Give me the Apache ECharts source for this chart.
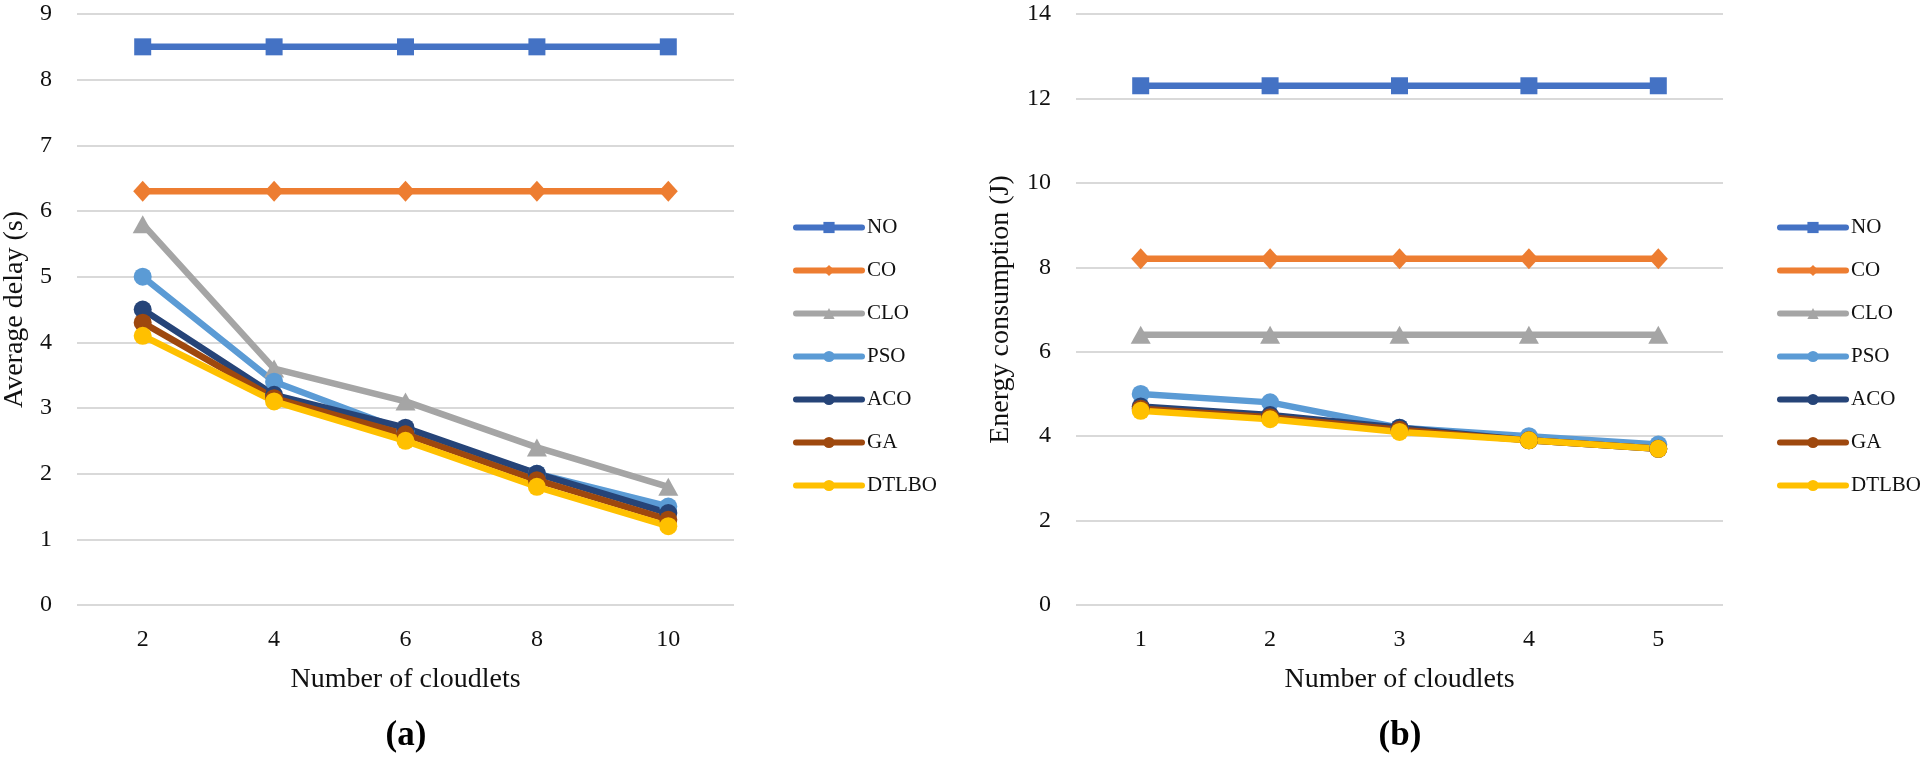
<!DOCTYPE html>
<html><head><meta charset="utf-8">
<script src="https://cdn.jsdelivr.net/npm/echarts@6/dist/echarts.min.js"></script>
<style>html,body{margin:0;padding:0;background:#fff}#c{width:1925px;height:758px}</style>
</head><body><div id="c"></div>
<script>
// ---- data ----
const seriesNames = ['NO', 'CO', 'CLO', 'PSO', 'ACO', 'GA', 'DTLBO'];
const catsA = ['2', '4', '6', '8', '10'];
const catsB = ['1', '2', '3', '4', '5'];
const delayNO    = [8.5, 8.5, 8.5, 8.5, 8.5];
const delayCO    = [6.3, 6.3, 6.3, 6.3, 6.3];
const delayCLO   = [5.8, 3.6, 3.1, 2.4, 1.8];
const delayPSO   = [5.0, 3.4, 2.65, 2.0, 1.5];
const delayACO   = [4.5, 3.2, 2.7, 2.0, 1.4];
const delayGA    = [4.3, 3.15, 2.6, 1.9, 1.3];
const delayDTLBO = [4.1, 3.1, 2.5, 1.8, 1.2];
const energyNO    = [12.3, 12.3, 12.3, 12.3, 12.3];
const energyCO    = [8.2, 8.2, 8.2, 8.2, 8.2];
const energyCLO   = [6.4, 6.4, 6.4, 6.4, 6.4];
const energyPSO   = [5.0, 4.8, 4.2, 4.0, 3.8];
const energyACO   = [4.7, 4.5, 4.2, 3.9, 3.7];
const energyGA    = [4.65, 4.45, 4.15, 3.9, 3.7];
const energyDTLBO = [4.6, 4.4, 4.1, 3.9, 3.7];
const delayAxis  = {min: 0, max: 9, interval: 1};
const energyAxis = {min: 0, max: 14, interval: 2};
const labelA = '(a)', labelB = '(b)';
const xName = 'Number of cloudlets';
const yNameA = 'Average delay (s)', yNameB = 'Energy consumption (J)';

// ---- styles ----
const FONT = "'Liberation Serif', 'Times New Roman', serif";
const TXT = '#111';
const colors = ['#4472C4', '#ED7D31', '#A5A5A5', '#5B9BD5', '#264478', '#9E480E', '#FFC000'];
const symbols = ['rect', 'diamond', 'triangle', 'circle', 'circle', 'circle', 'circle'];
const symSizes = [17, [19, 21], [20, 18], 18, 18, 18, 18];
const delayData = [delayNO, delayCO, delayCLO, delayPSO, delayACO, delayGA, delayDTLBO];
const energyData = [energyNO, energyCO, energyCLO, energyPSO, energyACO, energyGA, energyDTLBO];

function mkSeries(dataArr, idx) {
  return seriesNames.map((n, i) => ({
    name: n, type: 'line', xAxisIndex: idx, yAxisIndex: idx,
    data: dataArr[i], symbol: symbols[i], symbolSize: symSizes[i],
    showSymbol: true, color: colors[i],
    lineStyle: {width: 6.5, color: colors[i]},
    itemStyle: {color: colors[i]},
    emphasis: {disabled: true}, animation: false
  }));
}
const tickLabel = {fontFamily: FONT, fontSize: 24, color: TXT};
const nameStyle = {fontFamily: FONT, fontSize: 28, color: TXT};
function xAx(idx, cats) {
  return {type: 'category', gridIndex: idx, data: cats, boundaryGap: true,
    axisLine: {show: false}, axisTick: {show: false},
    axisLabel: Object.assign({margin: 23}, tickLabel),
    name: xName, nameLocation: 'middle', nameGap: 61, nameTextStyle: nameStyle};
}
function yAx(idx, ax, name, gap) {
  return {type: 'value', gridIndex: idx, min: ax.min, max: ax.max, interval: ax.interval,
    axisLine: {show: false}, axisTick: {show: false},
    axisLabel: Object.assign({margin: 25}, tickLabel),
    splitLine: {lineStyle: {color: '#D9D9D9', width: 2}},
    name: name, nameLocation: 'middle', nameGap: gap, nameTextStyle: nameStyle};
}
function mkLegend(left) {
  return {orient: 'vertical', left: left, top: 212, itemWidth: 66, itemHeight: 14, itemGap: 22,
    data: seriesNames.map((n, i) => ({name: n, lineStyle: {width: 6, cap: 'round', color: colors[i]}})),
    selectedMode: false,
    lineStyle: {width: 6, cap: 'round'},
    textStyle: {fontFamily: FONT, fontSize: 21, color: TXT}};
}
const chart = echarts.init(document.getElementById('c'));
chart.setOption({
  backgroundColor: '#fff',
  animation: false,
  grid: [
    {left: 77, right: 1191, top: 14, bottom: 153},
    {left: 1076, right: 202, top: 14, bottom: 153}
  ],
  xAxis: [xAx(0, catsA), xAx(1, catsB)],
  yAxis: [yAx(0, delayAxis, yNameA, 48), yAx(1, energyAxis, yNameB, 61)],
  legend: [mkLegend(788), mkLegend(1772)],
  graphic: [
    {type: 'text', x: 406, y: 736, style: {text: labelA, font: "bold 35px 'Liberation Serif', serif", fill: '#000', textAlign: 'center', textVerticalAlign: 'middle'}},
    {type: 'text', x: 1400, y: 736, style: {text: labelB, font: "bold 35px 'Liberation Serif', serif", fill: '#000', textAlign: 'center', textVerticalAlign: 'middle'}}
  ],
  series: mkSeries(delayData, 0).concat(mkSeries(energyData, 1))
});
</script></body></html>
